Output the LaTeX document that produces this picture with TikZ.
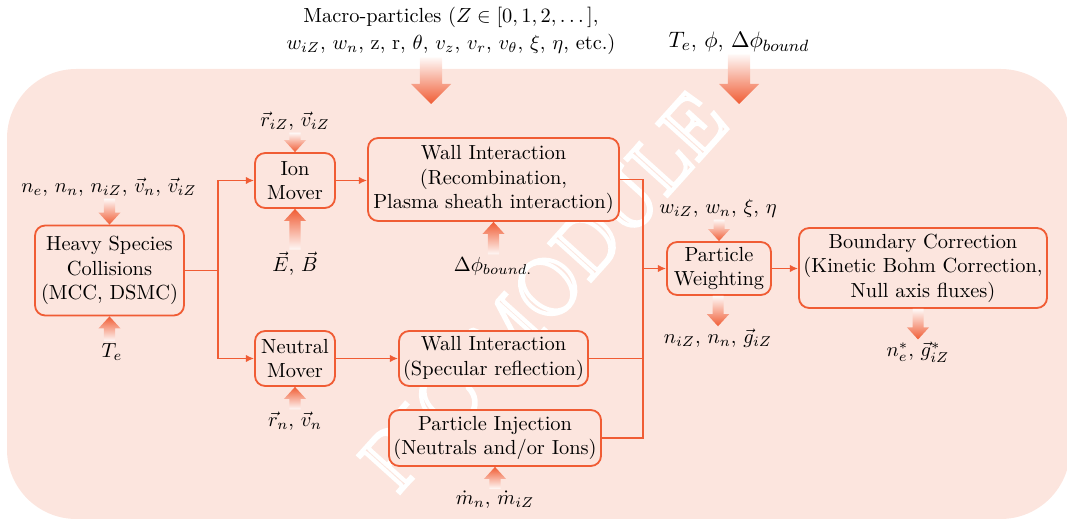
\documentclass[tikz,border=0pt]{standalone}
\usetikzlibrary{arrows.meta,calc}
\definecolor{orc}{RGB}{240,92,52}
\definecolor{bgc}{RGB}{252,229,222}
\newcommand\fatdown[5]{%
  \shade[top color=orc!4, bottom color=orc] let \p1=(#1), \p2=(#2) in
  (\x2-#3,\y1) -- (\x2+#3,\y1) -- (\x2+#3,\y2+#5) -- (\x2+#4,\y2+#5) -- (\x2,\y2)
  -- (\x2-#4,\y2+#5) -- (\x2-#3,\y2+#5) -- cycle;}
\newcommand\fatup[5]{%
  \shade[bottom color=orc!4, top color=orc] let \p1=(#1), \p2=(#2) in
  (\x2-#3,\y1) -- (\x2+#3,\y1) -- (\x2+#3,\y2-#5) -- (\x2+#4,\y2-#5) -- (\x2,\y2)
  -- (\x2-#4,\y2-#5) -- (\x2-#3,\y2-#5) -- cycle;}
\begin{document}
\begin{tikzpicture}[x=0.49pt,y=-0.49pt,
  box/.style={draw=orc, line width=0.9pt, rounded corners=5pt, fill=bgc,
    align=center, inner sep=0pt, text=black},
  sz/.style 2 args={minimum width=#1*0.49pt, minimum height=#2*0.49pt},
  lbl/.style={inner sep=1pt, text=black, align=center},
  conn/.style={draw=orc, line width=0.75pt},
  arr/.style={conn, -{Latex[length=4pt,width=3.6pt]}},
]
\useasboundingbox (0,0) rectangle (1067,519);
\fill[bgc, rounded corners=34pt] (7,69) rectangle (1070,519);

% watermark
\node[rotate=48, text=white, inner sep=0pt, font=\fontsize{40}{40}\selectfont] (wm) at (543,292)
  {\special{pdf:literal direct 1 Tr 2 w}PIC MODULE\special{pdf:literal direct 0 Tr}};

% boxes
\node[box, sz={149}{90}] (hsc) at (109.5,270.5) {Heavy Species\\Collisions\\(MCC, DSMC)};
\node[box, sz={80}{55}] (ion) at (295,180.5) {Ion\\Mover};
\node[box, sz={80}{55}] (neu) at (295,358.5) {Neutral\\Mover};
\node[box, sz={251}{83}] (w1) at (493.5,179.5) {Wall Interaction\\(Recombination,\\Plasma sheath interaction)};
\node[box, sz={189}{55}] (w2) at (493.5,358.5) {Wall Interaction\\(Specular reflection)};
\node[box, sz={212}{56}] (inj) at (495,438) {Particle Injection\\(Neutrals and/or Ions)};
\node[box, sz={104}{53}] (pw) at (719,268.5) {Particle\\Weighting};
\node[box, sz={248}{80}] (bc) at (923,268) {Boundary Correction\\(Kinetic Bohm Correction,\\Null axis fluxes)};

% labels
\node[lbl] (mac) at (451,31) {Macro-particles ($Z \in [0,1,2,\dots\,]$,\\[1.5pt]
  $w_{iZ}$, $w_n$, z, r, $\theta$, $v_z$, $v_r$, $v_\theta$, $\xi$, $\eta$, etc.)};
\node[lbl, font=\fontsize{11}{13}\selectfont] (tep) at (739,42) {$T_e$, $\phi$, $\Delta\phi_{bound}$};
\node[lbl] (riz) at (295,121) {$\vec r_{iZ}$, $\vec v_{iZ}$};
\node[lbl] (nin) at (109,187) {$n_e$, $n_n$, $n_{iZ}$, $\vec v_n$, $\vec v_{iZ}$};
\node[lbl] (eb) at (295,264) {$\vec E$, $\vec B$};
\node[lbl] (te) at (112,352) {$T_e$};
\node[lbl] (dphi) at (493,266) {$\Delta\phi_{bound.}$};
\node[lbl] (rn) at (295,421) {$\vec r_n$, $\vec v_n$};
\node[lbl] (md) at (495,500) {$\dot m_n$, $\dot m_{iZ}$};
\node[lbl] (wiz) at (718,208) {$w_{iZ}$, $w_n$, $\xi$, $\eta$};
\node[lbl] (nout) at (718,338) {$n_{iZ}$, $n_n$, $\vec g_{iZ}$};
\node[lbl] (bout) at (918,352) {$n_e^*$, $\vec g_{iZ}^*$};

% fat arrows
\coordinate (mtip) at (431,104);
\coordinate (ttip) at (739,104);
\fatdown{mac.south}{mtip}{5.4pt}{9.8pt}{9.8pt}
\fatdown{tep.south}{ttip}{5.4pt}{9.8pt}{9.8pt}
\fatdown{riz.south}{ion.north}{2.7pt}{5.4pt}{5.9pt}
\fatdown{nin.south}{hsc.north}{2.7pt}{5.4pt}{5.9pt}
\fatdown{wiz.south}{pw.north}{2.7pt}{5.4pt}{5.9pt}
\fatdown{pw.south}{nout.north}{2.7pt}{5.4pt}{5.9pt}
\fatdown{bc.south}{bout.north}{2.7pt}{5.4pt}{5.9pt}
\fatup{eb.north}{ion.south}{2.7pt}{5.4pt}{5.9pt}
\fatup{te.north}{hsc.south}{2.7pt}{5.4pt}{5.9pt}
\fatup{dphi.north}{w1.south}{2.7pt}{5.4pt}{5.9pt}
\fatup{rn.north}{neu.south}{2.7pt}{5.4pt}{5.9pt}
\fatup{md.north}{inj.south}{2.7pt}{5.4pt}{5.9pt}

% connectors
\coordinate (j1) at (218,0);
\coordinate (bus) at (643,0);
\draw[conn] (hsc.east) -- (hsc.east -| j1);
\draw[arr] (hsc.east -| j1) |- (ion.west);
\draw[arr] (hsc.east -| j1) |- (neu.west);
\draw[arr] (ion.east) -- (ion.east -| w1.west);
\draw[arr] (neu.east) -- (w2.west);
\draw[conn] (w1.east) -| (bus |- inj.east) -- (inj.east);
\draw[conn] (w2.east) -- (w2.east -| bus);
\draw[arr] (bus |- pw.west) -- (pw.west);
\draw[arr] (pw.east) -- (pw.east -| bc.west);
\end{tikzpicture}
\end{document}
